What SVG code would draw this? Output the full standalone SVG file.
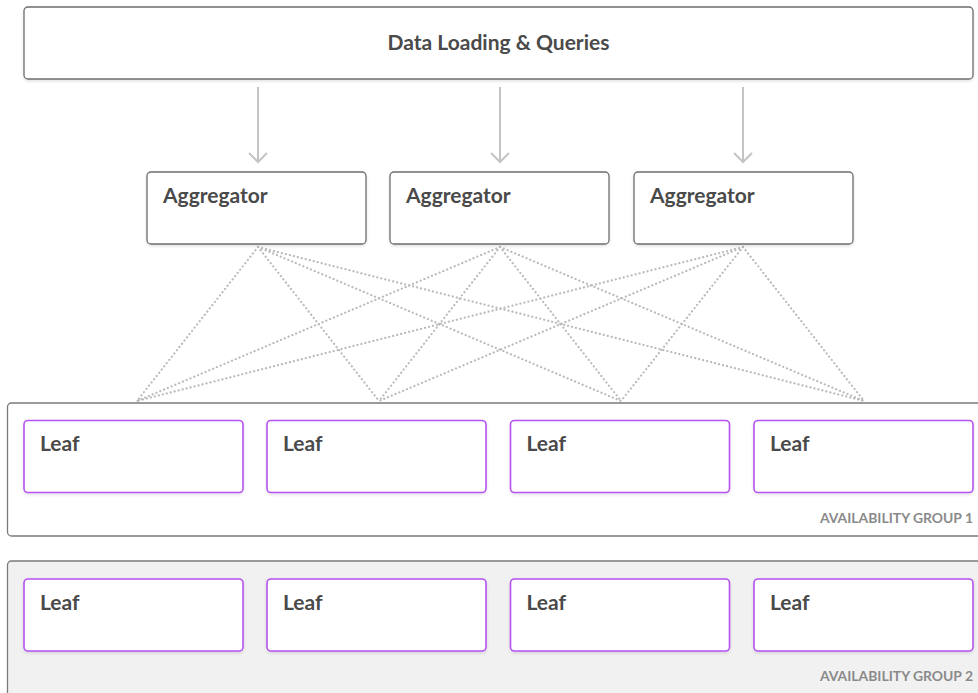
<svg xmlns="http://www.w3.org/2000/svg" width="978" height="693" viewBox="0 0 978 693">
  <defs>
    <style>
      .box { fill: #ffffff; stroke: #6e6e6e; stroke-width: 1.3; }
      .leaf { fill: #ffffff; stroke: #b553f2; stroke-width: 1.6; }
      .group1 { fill: #ffffff; stroke: #7a7a7a; stroke-width: 1.3; }
      .group2 { fill: #f1f1f1; stroke: #7a7a7a; stroke-width: 1.3; }
      .title { font-family: Lato, "Liberation Sans", sans-serif; font-weight: bold; font-size: 21px; fill: #4a4a4a; }
      .glabel { font-family: Lato, "Liberation Sans", sans-serif; font-weight: bold; font-size: 13.9px; fill: #8a8a8a; text-anchor: end; }
      .arrow { stroke: #c4c4c4; stroke-width: 2; fill: none; }
      .dots { stroke: #bbbbbb; stroke-width: 2.2; stroke-dasharray: 0.1 4; stroke-linecap: round; fill: none; }
    </style>
    <filter id="shadow" x="-5%" y="-10%" width="110%" height="130%">
      <feDropShadow dx="0" dy="1.5" stdDeviation="1.5" flood-color="#000000" flood-opacity="0.12"/>
    </filter>
  </defs>

  <rect width="978" height="693" fill="#ffffff"/>

  <!-- availability groups -->
  <g id="group-1">
    <rect class="group1" x="7.5" y="403" width="990" height="133" rx="4"/>
    <text class="glabel" x="973" y="523">AVAILABILITY GROUP 1</text>
  </g>
  <g id="group-2">
    <rect class="group2" x="7.5" y="561" width="990" height="160" rx="4"/>
    <text class="glabel" x="973" y="681">AVAILABILITY GROUP 2</text>
  </g>

  <!-- connectors -->
  <g id="connectors">
    <g class="arrow">
      <path d="M258 87 V162 M249 153 L258 162 L267 153"/>
      <path d="M500 87 V162 M491 153 L500 162 L509 153"/>
      <path d="M743 87 V162 M734 153 L743 162 L752 153"/>
    </g>
    <g class="dots">
      <path d="M258 247 L137 401 M258 247 L379 401 M258 247 L621 401 M258 247 L864 401"/>
      <path d="M500 247 L137 401 M500 247 L379 401 M500 247 L621 401 M500 247 L864 401"/>
      <path d="M743 247 L137 401 M743 247 L379 401 M743 247 L621 401 M743 247 L864 401"/>
    </g>
  </g>

  <!-- top tier -->
  <g id="data-loading">
    <rect class="box" x="24" y="7" width="949" height="72" rx="4" filter="url(#shadow)"/>
    <text class="title" x="498.5" y="50" text-anchor="middle">Data Loading &amp; Queries</text>
  </g>

  <!-- aggregators -->
  <g id="aggregator-1">
    <rect class="box" x="147" y="172" width="219" height="72" rx="4" filter="url(#shadow)"/>
    <text class="title" x="163" y="203">Aggregator</text>
  </g>
  <g id="aggregator-2">
    <rect class="box" x="390" y="172" width="219" height="72" rx="4" filter="url(#shadow)"/>
    <text class="title" x="406" y="203">Aggregator</text>
  </g>
  <g id="aggregator-3">
    <rect class="box" x="634" y="172" width="219" height="72" rx="4" filter="url(#shadow)"/>
    <text class="title" x="650" y="203">Aggregator</text>
  </g>

  <!-- leaves, group 1 -->
  <g id="leaf-1-1">
    <rect class="leaf" x="24" y="420.5" width="219" height="72" rx="4" filter="url(#shadow)"/>
    <text class="title" x="40" y="451">Leaf</text>
  </g>
  <g id="leaf-1-2">
    <rect class="leaf" x="267" y="420.5" width="219" height="72" rx="4" filter="url(#shadow)"/>
    <text class="title" x="283" y="451">Leaf</text>
  </g>
  <g id="leaf-1-3">
    <rect class="leaf" x="510.5" y="420.5" width="219" height="72" rx="4" filter="url(#shadow)"/>
    <text class="title" x="526.5" y="451">Leaf</text>
  </g>
  <g id="leaf-1-4">
    <rect class="leaf" x="754" y="420.5" width="219" height="72" rx="4" filter="url(#shadow)"/>
    <text class="title" x="770" y="451">Leaf</text>
  </g>

  <!-- leaves, group 2 -->
  <g id="leaf-2-1">
    <rect class="leaf" x="24" y="579" width="219" height="72" rx="4" filter="url(#shadow)"/>
    <text class="title" x="40" y="610">Leaf</text>
  </g>
  <g id="leaf-2-2">
    <rect class="leaf" x="267" y="579" width="219" height="72" rx="4" filter="url(#shadow)"/>
    <text class="title" x="283" y="610">Leaf</text>
  </g>
  <g id="leaf-2-3">
    <rect class="leaf" x="510.5" y="579" width="219" height="72" rx="4" filter="url(#shadow)"/>
    <text class="title" x="526.5" y="610">Leaf</text>
  </g>
  <g id="leaf-2-4">
    <rect class="leaf" x="754" y="579" width="219" height="72" rx="4" filter="url(#shadow)"/>
    <text class="title" x="770" y="610">Leaf</text>
  </g>
</svg>
